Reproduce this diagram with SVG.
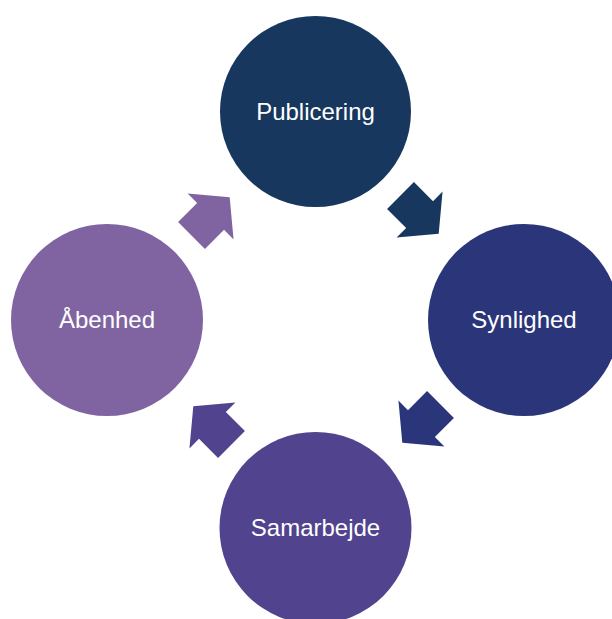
<svg xmlns="http://www.w3.org/2000/svg" width="612" height="619" viewBox="0 0 612 619">
<style>
.lbl{font-family:"Liberation Sans",Arial,sans-serif;font-size:24px;fill:#ffffff;text-anchor:middle}
</style>
<defs>
<path id="arr" d="M0,-19 L27,-19 L27,-32.5 L54,0 L27,32.5 L27,19 L0,19 Z"/>
</defs>
<rect width="612" height="619" fill="#ffffff"/>
<g id="connectors">
<use href="#arr" fill="#17375E" transform="translate(400.5,195.5) rotate(45)"/>
<use href="#arr" fill="#2A3679" transform="rotate(90,316,320) translate(400.5,195.5) rotate(45)"/>
<use href="#arr" fill="#51438E" transform="rotate(180,316,320) translate(400.5,195.5) rotate(45)"/>
<use href="#arr" fill="#8064A2" transform="rotate(270,316,320) translate(400.5,195.5) rotate(45)"/>
</g>
<g id="publicering">
<circle cx="315.5" cy="111.5" r="95.5" fill="#17375E"/>
<text class="lbl" x="315.5" y="119.5">Publicering</text>
</g>
<g id="synlighed">
<circle cx="524" cy="320" r="96" fill="#2A3679"/>
<text class="lbl" x="524" y="328">Synlighed</text>
</g>
<g id="samarbejde">
<circle cx="315.5" cy="528" r="96" fill="#51438E"/>
<text class="lbl" x="315.5" y="536">Samarbejde</text>
</g>
<g id="abenhed">
<circle cx="107" cy="320" r="96" fill="#8064A2"/>
<text class="lbl" x="107" y="328">Åbenhed</text>
</g>
</svg>
